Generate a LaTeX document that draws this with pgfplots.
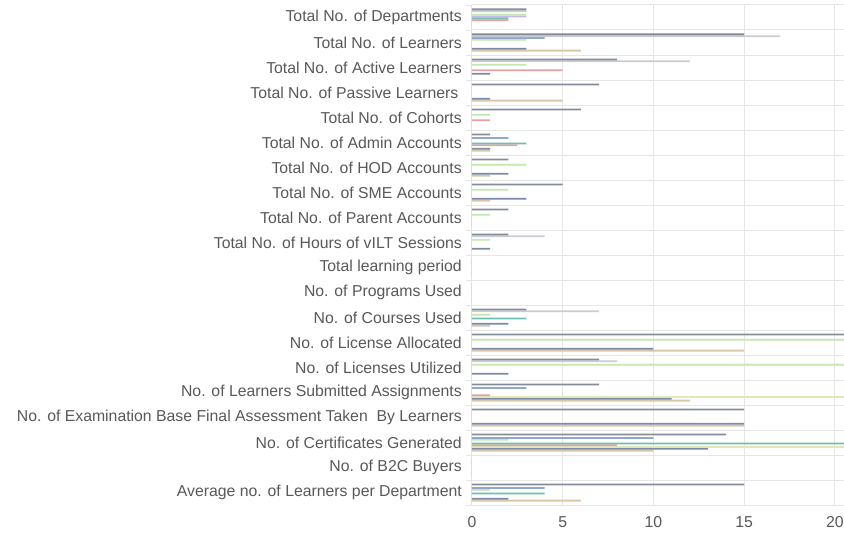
\documentclass[border=0pt]{standalone}
\usepackage{fontspec}
\setmainfont{Liberation Sans}
\usepackage{pgfplots}
\usepackage{pgfplotstable}
\pgfplotsset{compat=1.18}
\definecolor{lbl}{HTML}{595959}
\definecolor{gridc}{HTML}{E6E6E6}
\definecolor{c1}{HTML}{858C99}
\definecolor{c2}{HTML}{C9CCD2}
\definecolor{c3}{HTML}{8FA8CC}
\definecolor{c4}{HTML}{C4E6B0}
\definecolor{c5}{HTML}{C8B8E8}
\definecolor{c6}{HTML}{6CC0B0}
\definecolor{c7}{HTML}{E8A0A0}
\definecolor{c8}{HTML}{E0E8B8}
\definecolor{c9}{HTML}{7A8AA8}
\definecolor{c10}{HTML}{D8C8A8}
\pgfplotstableread{
c s1 s2 s3 s4 s5 s6 s7 s8 s9 s10
0 3 3 0 3 3 2 2 0 0 0
1 15 17 4 3 0 0 0 0 3 6
2 8 12 0 3 0 0 5 0 1 0
3 7 0 0 0 0 0 0 0 1 5
4 6 0 0 1 0 0 1 0 0 0
5 1 0 2 0 0 3 2.5 0 1 1
6 2 0 0 3 0 0 0 0 2 1
7 5 0 0 2 0 0 0 0 3 1
8 2 0 0 1 0 0 0 0 0 0
9 2 4 0 1 0 0 0 0 1 0
10 0 0 0 0 0 0 0 0 0 0
11 0 0 0 0 0 0 0 0 0 0
12 3 7 0 1 0 3 0 0 2 1
13 25 0 0 22 0 0 0 0 10 15
14 7 8 0 25 0 0 0 0 2 0
15 7 0 3 0 0 0 1 25 11 12
16 15 0 0 0 0 0 0 0 15 15
17 14 0 10 2 0 25 8 25 13 10
18 0 0 0 0 0 0 0 0 0 0
19 15 0 4 1 0 4 0 0 2 6
}\datatable
\begin{document}
\begin{tikzpicture}
\useasboundingbox[fill=white] (0,0) rectangle (844pt,538pt);
\begin{axis}[
  at={(472pt,33pt)}, anchor=south west,
  scale only axis, width=372pt, height=500pt,
  xbar=0pt, bar width=1.8pt,
  xmin=0, xmax=20.5, ymin=-0.5, ymax=19.5,
  y dir=reverse,
  axis line style={draw=none},
  xtick={0,5,10,15,20},
  ytick={0,...,19},
  minor ytick={-0.5,0.5,...,19.5},
  yticklabels={Total No. of Departments, Total No. of Learners, Total No. of Active Learners, Total No. of Passive Learners\hphantom{i}, Total No. of Cohorts, Total No. of Admin Accounts, Total No. of HOD Accounts, Total No. of SME Accounts, Total No. of Parent Accounts, Total No. of Hours of vILT Sessions, Total learning period, No. of Programs Used, No. of Courses Used, No. of License Allocated, No. of Licenses Utilized, No. of Learners Submitted Assignments, No. of Examination Base Final Assessment Taken\ \ By Learners, No. of Certificates Generated, No. of B2C Buyers, Average no. of Learners per Department},
  major tick length=0pt, minor tick length=6pt,
  tick align=outside,
  tick style={gridc, line width=0.8pt},
  xmajorgrids, yminorgrids,
  major grid style={gridc, line width=1pt},
  minor grid style={gridc, line width=1pt},
  every tick label/.append style={font=\fontsize{15.8}{18}\selectfont, text=lbl},
  yticklabel style={inner xsep=0pt, xshift=-10pt},
  xticklabel style={yshift=-8pt},
  /pgf/number format/assume math mode=true,
  clip=true,
]
\draw[c2, line width=1pt] (axis cs:0,-0.5) -- (axis cs:0,19.5);
\addplot[fill=c10, draw=none] table[x=s10, y=c] {\datatable};
\addplot[fill=c9, draw=none] table[x=s9, y=c] {\datatable};
\addplot[fill=c8, draw=none] table[x=s8, y=c] {\datatable};
\addplot[fill=c7, draw=none] table[x=s7, y=c] {\datatable};
\addplot[fill=c6, draw=none] table[x=s6, y=c] {\datatable};
\addplot[fill=c5, draw=none] table[x=s5, y=c] {\datatable};
\addplot[fill=c4, draw=none] table[x=s4, y=c] {\datatable};
\addplot[fill=c3, draw=none] table[x=s3, y=c] {\datatable};
\addplot[fill=c2, draw=none] table[x=s2, y=c] {\datatable};
\addplot[fill=c1, draw=none] table[x=s1, y=c] {\datatable};
\end{axis}
\end{tikzpicture}
\end{document}
